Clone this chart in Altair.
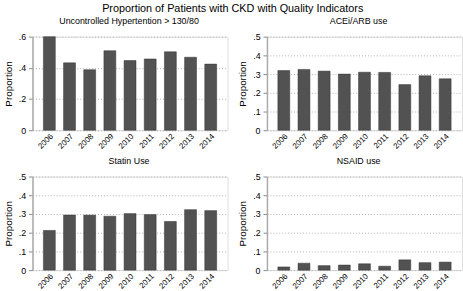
import altair as alt
import pandas as pd

years = ["2006", "2007", "2008", "2009", "2010", "2011", "2012", "2013", "2014"]
hypertension = [0.600, 0.432, 0.388, 0.510, 0.447, 0.457, 0.503, 0.468, 0.424]
acei_arb = [0.319, 0.325, 0.316, 0.300, 0.310, 0.309, 0.244, 0.291, 0.275]
statin = [0.212, 0.294, 0.294, 0.288, 0.302, 0.297, 0.260, 0.323, 0.318]
nsaid = [0.017, 0.037, 0.024, 0.027, 0.034, 0.021, 0.055, 0.040, 0.043]

titles = ["Uncontrolled Hypertention > 130/80", "ACEi/ARB use", "Statin Use", "NSAID use"]
series = [hypertension, acei_arb, statin, nsaid]
ymax = [0.6, 0.5, 0.5, 0.5]
yticks = [[0, 0.2, 0.4, 0.6], [0, 0.1, 0.2, 0.3, 0.4, 0.5],
          [0, 0.1, 0.2, 0.3, 0.4, 0.5], [0, 0.1, 0.2, 0.3, 0.4, 0.5]]

FONT = "Liberation Sans"


def panel(i, dx):
    df = pd.DataFrame({"year": years, "value": series[i]})
    return alt.Chart(df).mark_bar(color="#525252", stroke="#333333", strokeWidth=0.5).encode(
        x=alt.X("year:N", sort=years,
                scale=alt.Scale(paddingInner=0.41, paddingOuter=0.54),
                axis=alt.Axis(title=None, labelAngle=-45, domain=False, ticks=False,
                              labelFontSize=8, labelPadding=2, labelColor="#000000",
                              labelFont=FONT)),
        y=alt.Y("value:Q", scale=alt.Scale(domain=[0, ymax[i]], nice=False),
                axis=alt.Axis(title="Proportion", values=yticks[i],
                              labelExpr="datum.value == 0 ? '0' : replace(format(datum.value, '.1f'), '0.', '.')",
                              labelFontSize=9, labelFont=FONT, labelColor="#000000",
                              labelPadding=3, tickSize=4, tickColor="#888888",
                              domainColor="#aaaaaa", domainWidth=1.5,
                              grid=True, gridColor="#b0b0b0", gridDash=[1, 2],
                              titleFontSize=10, titleFontWeight="normal", titleFont=FONT,
                              titleColor="#000000", titlePadding=5)),
    ).properties(
        width=198, height=95,
        title=alt.Title(titles[i], fontSize=9, fontWeight="normal", font=FONT,
                        color="#000000", offset=7, frame="group", dx=dx),
    )


chart = alt.concat(
    panel(0, -1), panel(1, -6), panel(2, -1), panel(3, -6),
    columns=2, spacing=alt.RowColnumber(row=47, column=40), bounds="flush",
).properties(
    title=alt.Title("Proportion of Patients with CKD with Quality Indicators",
                    fontSize=11, fontWeight="normal", font=FONT, color="#000000",
                    anchor="middle", offset=3),
    padding={"left": 2, "top": 0, "right": 0, "bottom": 0},
).configure_view(stroke=None).configure(background="white")

chart.save("out.html", embed_options={"renderer": "svg", "actions": False})
